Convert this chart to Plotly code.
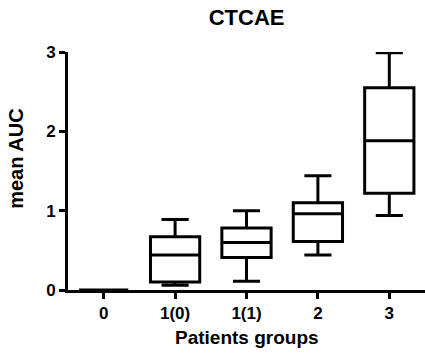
import plotly.graph_objects as go

categories = ["0", "1(0)", "1(1)", "2", "3"]
lower_whisker = [0.0, 0.06, 0.11, 0.44, 0.94]
q1_values = [0.0, 0.10, 0.41, 0.61, 1.22]
median_values = [0.0, 0.44, 0.60, 0.96, 1.88]
q3_values = [0.0, 0.67, 0.78, 1.10, 2.55]
upper_whisker = [0.0, 0.89, 1.00, 1.44, 2.99]
y_ticks = [0, 1, 2, 3]

FONT = "Liberation Sans, Arial, Helvetica, sans-serif"

fig = go.Figure()
fig.add_trace(go.Box(
    x=categories,
    q1=q1_values,
    median=median_values,
    q3=q3_values,
    lowerfence=lower_whisker,
    upperfence=upper_whisker,
    fillcolor="white",
    line=dict(color="black", width=3),
    width=0.69,
    whiskerwidth=0.55,
    boxpoints=False,
    showlegend=False,
    hoverinfo="skip",
))

fig.update_layout(
    width=425, height=354,
    margin=dict(l=68, r=0, t=52, b=64),
    paper_bgcolor="white", plot_bgcolor="white",
    font=dict(family=FONT, color="black"),
    title=dict(text="CTCAE", x=0.5803, xref="container", xanchor="center",
               y=1 - 17 / 354, yref="container", yanchor="middle",
               font=dict(size=22, weight="bold", family=FONT)),
    xaxis=dict(
        type="category", categoryarray=categories, range=[-0.5, 4.5],
        showline=True, linecolor="black", linewidth=3,
        ticks="outside", ticklen=6, tickwidth=3, tickcolor="black",
        tickfont=dict(size=17, weight="bold", family=FONT),
        showgrid=False, zeroline=False,
    ),
    yaxis=dict(
        range=[0, 3], tickvals=y_ticks,
        showline=True, linecolor="black", linewidth=3,
        ticks="outside", ticklen=6, tickwidth=3, tickcolor="black",
        tickfont=dict(size=17, weight="bold", family=FONT),
        showgrid=False, zeroline=False,
    ),
    annotations=[
        dict(text="Patients groups", xref="paper", yref="paper",
             x=0.5, y=-(337 - 290) / 238,
             xanchor="center", yanchor="middle", showarrow=False,
             font=dict(size=19, weight="bold", family=FONT)),
        dict(text="mean AUC", xref="paper", yref="paper",
             x=(16 - 68) / 357, y=(290 - 158.8) / 238, textangle=-90,
             xanchor="center", yanchor="middle", showarrow=False,
             font=dict(size=20, weight="bold", family=FONT)),
    ],
)

fig.write_html("out.html")
